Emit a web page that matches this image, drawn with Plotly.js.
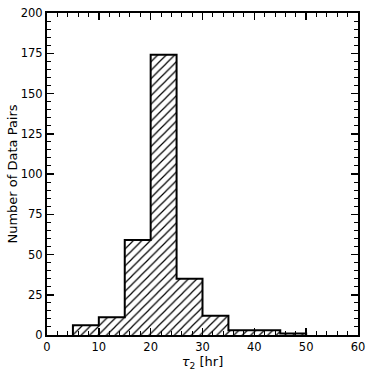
<!DOCTYPE html>
<html>
<head>
<meta charset="utf-8">
<script src="https://cdn.plot.ly/plotly-3.0.1.min.js"></script>
<style>
  html, body { margin: 0; padding: 0; background: #fff; }
  #plot-area { width: 374px; height: 374px; }
</style>
</head>
<body>
<div id="plot-area"></div>
<script>
// histogram of tau_2, bins of 5 hr
var binCenters = [7.5, 12.5, 17.5, 22.5, 27.5, 32.5, 37.5, 42.5, 47.5];
var binCounts  = [6, 11, 59, 174, 35, 12, 3, 3, 1];
var binWidth = 5;

function StepOutline() {
    // outline like histtype='step': left edges + last right edge
    var xs = [binCenters[0] - binWidth / 2], ys = [0];
    for (var i = 0; i < binCenters.length; i++) {
        xs.push(binCenters[i] - binWidth / 2);
        ys.push(binCounts[i]);
    }
    var last = binCenters[binCenters.length - 1] + binWidth / 2;
    xs.push(last); ys.push(binCounts[binCounts.length - 1]);
    xs.push(last); ys.push(0);
    return {x: xs, y: ys};
}

function UpdatePlot() {
    var step = StepOutline();
    var data = [
        {
            type: "bar",
            x: binCenters,
            y: binCounts,
            width: binCenters.map(function () { return binWidth; }),
            marker: {
                color: "white",
                line: {color: "white", width: 0},
                pattern: {shape: "/", fgcolor: "black", bgcolor: "white", size: 6, solidity: 0.2}
            },
            showlegend: false,
            hoverinfo: "skip"
        },
        {
            type: "scatter",
            mode: "lines",
            x: step.x,
            y: step.y,
            line: {color: "black", width: 2, shape: "hv"},
            showlegend: false,
            hoverinfo: "skip"
        }
    ];

    var fnt = {family: "DejaVu Sans, sans-serif", size: 11.5, color: "black"};

    var layout = {
        width: 374, height: 374,
        margin: {l: 47, r: 16, t: 13, b: 39},
        paper_bgcolor: "white", plot_bgcolor: "white",
        bargap: 0,
        font: fnt,
        xaxis: {
            title: {text: "<i>τ</i><sub>2</sub> [hr]", font: {family: "DejaVu Sans, sans-serif", size: 13}, standoff: 0},
            range: [0, 60], tickvals: [0, 10, 20, 30, 40, 50, 60],
            ticks: "inside", ticklen: 7, tickwidth: 1.5, tickcolor: "black",
            minor: {dtick: 2, ticks: "inside", ticklen: 4, tickcolor: "black", tickwidth: 1},
            showline: true, linecolor: "black", linewidth: 2, mirror: "allticks",
            showgrid: false, zeroline: false
        },
        yaxis: {
            title: {text: "Number of Data Pairs", font: {family: "DejaVu Sans, sans-serif", size: 13}, standoff: 0},
            range: [0, 200], tickvals: [0, 25, 50, 75, 100, 125, 150, 175, 200],
            ticks: "inside", ticklen: 7, tickwidth: 1.5, tickcolor: "black",
            minor: {dtick: 5, ticks: "inside", ticklen: 4, tickcolor: "black", tickwidth: 1},
            showline: true, linecolor: "black", linewidth: 2, mirror: "allticks",
            showgrid: false, zeroline: false
        }
    };

    Plotly.newPlot("plot-area", data, layout, {displayModeBar: false, staticPlot: true});
}

UpdatePlot();
</script>
</body>
</html>
